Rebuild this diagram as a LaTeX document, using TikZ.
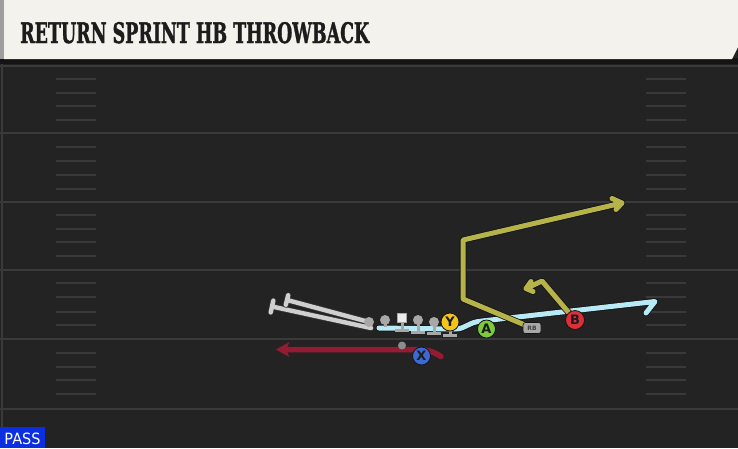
\documentclass[tikz,border=0pt]{standalone}
\usepackage{fontspec}
\usetikzlibrary{arrows.meta}
\newfontfamily\titlefont{DejaVu Serif}[BoldFeatures={FakeBold=1.6}]
\newfontfamily\labfont{DejaVu Sans}
\definecolor{fieldbg}{HTML}{232323}
\definecolor{yardc}{HTML}{3A3A3A}
\definecolor{hashc}{HTML}{393939}
\definecolor{headbg}{HTML}{F4F2EC}
\definecolor{titlec}{HTML}{1C1C1C}
\definecolor{passblue}{HTML}{0A2EE0}
\definecolor{outc}{HTML}{131313}
\definecolor{cyanc}{HTML}{B8EAF5}
\definecolor{olivec}{HTML}{B6B34A}
\definecolor{redc}{HTML}{951B33}
\definecolor{linec}{HTML}{CFCFCF}
\definecolor{olc}{HTML}{A8A8A8}
\definecolor{ycol}{HTML}{F4C51C}
\definecolor{acol}{HTML}{7CCB3E}
\definecolor{bcol}{HTML}{DC2F3A}
\definecolor{xcol}{HTML}{3D69D4}
\tikzset{
  yard/.style={draw=yardc, line width=2pt},
  hashm/.style={draw=hashc, line width=2pt},
  route/.style={line width=5pt, line cap=round, line join=round,
     preaction={draw=outc, line width=6.6pt, line cap=round, line join=round}},
  cyanroute/.style={route, draw=cyanc},
  oliveroute/.style={route, draw=olivec},
  redroute/.style={draw=redc, line width=5.5pt, line cap=round, line join=round},
  blockline/.style={draw=linec, line width=4.4pt, line cap=round, line join=round,
     preaction={draw=black!80, line width=6pt, line cap=round, line join=round}},
  tstem/.style={draw=olc, line width=3pt},
  lineman/.style={circle, fill=olc, minimum size=10pt, inner sep=0pt},
  centerbox/.style={rectangle, fill=white!92!black, draw=olc, line width=0.8pt, minimum size=9pt, inner sep=0pt},
  player/.style={circle, minimum size=18pt, inner sep=0pt, draw=outc, line width=0.8pt,
     font=\labfont\bfseries\fontsize{13}{13}\selectfont, text=titlec},
}
\begin{document}
\begin{tikzpicture}[x=1pt,y=-1pt]
\useasboundingbox (0,0) rectangle (738,448);
% field
\fill[fieldbg] (0,0) rectangle (738,448);
\draw[draw=yardc, line width=2pt] (1.5,60) -- (1.5,448);
\foreach \yy in {66,133,201.5,270,338.5,408.5} \draw[yard] (0,\yy) -- (738,\yy);
\foreach \yy in {79,92.5,106,120,147,161,175,188.5,214.5,228.5,241.5,256,283,297,311.5,324.5,352.5,367,380,394}{
  \draw[hashm] (56,\yy) -- (96,\yy);
  \draw[hashm] (646,\yy) -- (686,\yy);
}
% header
\fill[black!92] (0,58) rectangle (738,64);
\fill[headbg] (4,0) -- (738,0) -- (738,47) -- (732,59) -- (4,59) -- cycle;
\fill[black!38] (0,0) rectangle (4,59);
\node[anchor=base west, inner sep=0pt, text=titlec] (title) at (20,43)
  {\resizebox{349pt}{21pt}{\titlefont\bfseries RETURN SPRINT HB THROWBACK}};
% player positions
\coordinate (pY) at (450,322);
\coordinate (pA) at (486.5,329);
\coordinate (pB) at (575,320);
\coordinate (pX) at (421.5,356);
\coordinate (pRB) at (532,328);
\coordinate (pL1) at (369,322);
\coordinate (pL2) at (385,320);
\coordinate (pC) at (402,318);
\coordinate (pL4) at (418,320);
\coordinate (pL5) at (434,322);
\coordinate (pG) at (402,345.5);
% block lines (gray)
\draw[blockline] (371,328) -- (272,306.5) (273.3,300.6) -- (270.7,312.4);
\draw[blockline] (pL1) -- (287,300) (288.2,295.2) -- (285.8,304.8);
% cyan route
\draw[cyanroute] (379,328) -- (455,329) .. controls (466,329) and (468,322) .. (482,321)
   -- (655,301.5) -- (646,313);
% red route
\draw[redroute] (441,356.5) .. controls (432,350.5) and (425,349.5) .. (415,349.5) -- (285,349.5);
\fill[redc] (276,349.5) -- (289.5,342) -- (286,349.5) -- (289.5,357) -- cycle;
% olive routes
\draw[oliveroute] (pRB) -- (463,299) -- (463,240) -- (622,203)
   (612,198.5) -- (622,203) -- (616,209.5);
\draw[oliveroute] (pB) -- (542,281) -- (526,288.5)
   (531,281.5) -- (526,288.5) -- (533,291.5);
% line T blocks
\draw[tstem] (pL2) -- (385,327);
\draw[tstem] (pC) -- (402,330) (395,330) -- (409,330);
\draw[tstem] (pL4) -- (418,332) (411,332) -- (425,332);
\draw[tstem] (pL5) -- (434,333.5) (427,333.5) -- (441,333.5);
\draw[tstem] (pY) -- (450,335) (443,335) -- (457,335);
% linemen
\node[lineman] (L1) at (pL1) {};
\node[lineman] (L2) at (pL2) {};
\node[centerbox] (C) at (pC) {};
\node[lineman] (L4) at (pL4) {};
\node[lineman] (L5) at (pL5) {};
\node[circle, fill=black!45, minimum size=8pt, inner sep=0pt] (G) at (pG) {};
% skill players
\node[player, fill=ycol] (Y) at (pY) {Y};
\node[player, fill=acol] (A) at (pA) {A};
\node[player, fill=bcol, minimum size=19pt] (B) at (pB) {B};
\node[player, fill=xcol] (X) at (pX) {X};
\node[rectangle, rounded corners=2.5pt, fill=olc, draw=outc, line width=0.6pt,
  minimum width=18pt, minimum height=11pt, inner sep=0pt,
  font=\labfont\bfseries\fontsize{6}{6}\selectfont, text=black!75] (RB) at (pRB) {RB};
% pass tag
\node[anchor=south west, fill=passblue, minimum width=45pt, minimum height=21pt, inner sep=0pt] (pass) at (0,448) {};
\node[anchor=base, inner sep=0pt, text=white] (passtext) at (22.5,444)
  {\resizebox{36pt}{11.5pt}{\labfont PASS}};
\end{tikzpicture}
\end{document}
